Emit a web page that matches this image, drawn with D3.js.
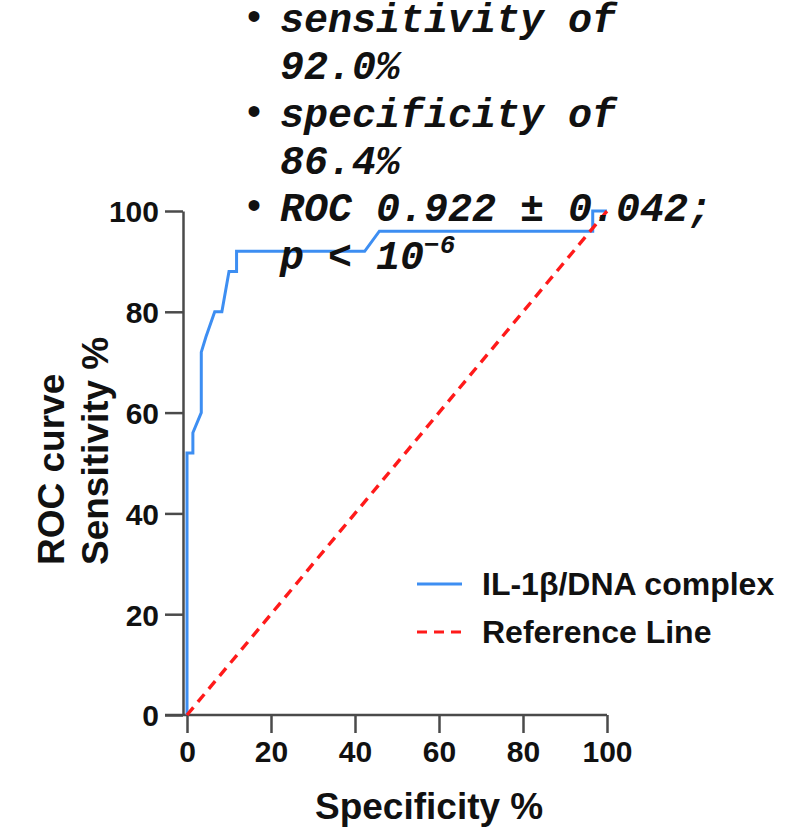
<!DOCTYPE html>
<html>
<head>
<meta charset="utf-8">
<script src="https://cdn.jsdelivr.net/npm/d3@7"></script>
<style>
    body { margin: 0; background: #fff; }
    .tick text { font-family: "Liberation Sans", Arial, sans-serif; font-weight: bold; font-size: 30px; fill: #111; }
    .axis path, .axis line { stroke: #4a4a4a; stroke-width: 2.5px; }
</style>
</head>
<body>
<div id="chart"></div>
<script>
// ROC curve points: [100 - specificity %, sensitivity %]
const rocX = [0, 0, 1.4, 1.4, 3.4, 3.4, 4.5, 6.6, 8.3, 10, 11.8, 11.8, 42.3, 45.8, 96.6, 96.6, 100];
const rocY = [0, 52, 52, 56, 60, 72, 75, 80, 80, 88, 88, 92, 92, 96, 96, 100, 100];
const refX = [0, 100];
const refY = [0, 100];
const xTicks = [0, 20, 40, 60, 80, 100];
const yTicks = [0, 20, 40, 60, 80, 100];
const seriesNames = ["IL-1\u03b2/DNA complex", "Reference Line"];
const notes = [
    {bullet: true, text: "sensitivity of"},
    {bullet: false, text: "92.0%"},
    {bullet: true, text: "specificity of"},
    {bullet: false, text: "86.4%"},
    {bullet: true, text: "ROC 0.922 \u00b1 0.042;"},
    {bullet: false, text: "p < 10", sup: "\u22126"}
];

const [svgW, svgH] = [805, 828];
const BLUE = "#3d8ef2";
const RED = "#ff1a1a";

const svg = d3.select("#chart").append("svg").attr("width", svgW).attr("height", svgH);

const x = d3.scaleLinear().domain([0, 100]).range([187, 607]);
const y = d3.scaleLinear().domain([0, 100]).range([715, 211]);

// x axis (line extends left under the y tick)
const xAxis = svg.append("g").attr("class", "axis").attr("transform", "translate(0,715)")
    .call(d3.axisBottom(x).tickValues(xTicks).tickSize(18).tickSizeOuter(0).tickPadding(8));
xAxis.select(".domain").attr("d", "M165,0H" + x(100));

// y axis, offset a few px left of x=0
const yAxis = svg.append("g").attr("class", "axis").attr("transform", "translate(183,0)")
    .call(d3.axisLeft(y).tickValues(yTicks).tickSize(18).tickSizeOuter(0).tickPadding(6));
yAxis.selectAll(".tick text").attr("dy", "0.36em");

const line = d3.line().x(d => x(d[0])).y(d => y(d[1]));

svg.append("path").datum(d3.zip(rocX, rocY)).attr("d", line)
    .attr("fill", "none").attr("stroke", BLUE).attr("stroke-width", 3);

svg.append("path").datum(d3.zip(refX, refY)).attr("d", line)
    .attr("fill", "none").attr("stroke", RED).attr("stroke-width", 3.4).attr("stroke-dasharray", "10,7");

// axis titles
const titleFont = "'Liberation Sans', Arial, sans-serif";
svg.append("text").attr("x", 315).attr("y", 819)
    .style("font-family", titleFont).style("font-weight", "bold").style("font-size", "37px").attr("fill", "#111")
    .text("Specificity %");

const yt = svg.append("text").attr("transform", "translate(64,565) rotate(-90)")
    .style("font-family", titleFont).style("font-weight", "bold").style("font-size", "37px").attr("fill", "#111");
yt.append("tspan").attr("x", 0).attr("y", 0).text("ROC curve");
yt.append("tspan").attr("x", 0).attr("y", 44).text("Sensitivity %");

// legend
const legend = svg.append("g").attr("transform", "translate(417,584)");
seriesNames.forEach(function (name, i) {
    let g = legend.append("g").attr("transform", "translate(0," + (i * 48) + ")");
    g.append("line").attr("x1", 0).attr("x2", 45).attr("y1", 0).attr("y2", 0)
        .attr("stroke", i === 0 ? BLUE : RED).attr("stroke-width", 3)
        .attr("stroke-dasharray", i === 0 ? null : "10,7");
    g.append("text").attr("x", 65).attr("y", 11)
        .style("font-family", titleFont).style("font-weight", "bold").style("font-size", "32px").attr("fill", "#111")
        .text(name);
});

// annotation text
const notesG = svg.append("g");
notes.forEach(function (d, i) {
    let yy = 32 + i * 47.3;
    if (d.bullet) {
        notesG.append("text").attr("x", 247).attr("y", yy - 2)
            .style("font-family", titleFont).style("font-size", "40px").attr("fill", "#111").text("\u2022");
    }
    let t = notesG.append("text").attr("x", 280).attr("y", yy)
        .style("font-family", "'Liberation Mono', 'Courier New', monospace")
        .style("font-weight", "bold").style("font-style", "italic").style("font-size", "40px").attr("fill", "#111")
        .text(d.text);
    if (d.sup) {
        t.append("tspan").attr("dy", -16).style("font-size", "26px").text(d.sup);
    }
});
</script>
</body>
</html>
